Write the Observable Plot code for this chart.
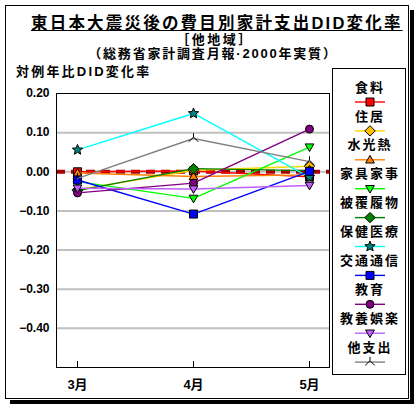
<!DOCTYPE html>
<html><head><meta charset="utf-8">
<script src="https://cdn.jsdelivr.net/npm/d3@7"></script>
<script src="https://cdn.jsdelivr.net/npm/@observablehq/plot@0.6"></script>
<style>
html,body{margin:0;padding:0;background:#fff;}
#root{position:relative;width:419px;height:408px;overflow:hidden;font-family:"Liberation Sans","Noto Sans CJK JP",sans-serif;color:#000;}
.abs{position:absolute;}
</style></head>
<body><div id="root"></div>
<script>
// ---- data ----
const months = ["3月", "4月", "5月"];
const seriesNames = ["食料","住居","水光熱","家具家事","被覆履物","保健医療","交通通信","教育","教養娯楽","他支出"];
const food       = [0.000, 0.002, -0.013];
const housing    = [-0.046, 0.004, 0.014];
const utilities  = [-0.003, -0.012, -0.008];
const furniture  = [-0.025, -0.068, 0.063];
const clothing   = [-0.048, 0.008, 0.003];
const medical    = [0.056, 0.149, -0.014];
const transport  = [-0.021, -0.108, 0.001];
const education  = [-0.054, -0.029, 0.109];
const recreation = [-0.042, -0.044, -0.035];
const other      = [-0.017, 0.085, 0.026];
const yTicks = [0.2, 0.1, 0, -0.1, -0.2, -0.3, -0.4];
const gridTicks = [0.1, 0, -0.1, -0.2, -0.3, -0.4];
const titleText = "東日本大震災後の費目別家計支出DID変化率";
const subtitleText = "［他地域］";
const sourceText = "（総務省家計調査月報·2000年実質）";
const yTitleText = "対例年比DID変化率";

// ---- symbols ----
const rr = s => Math.sqrt(s / Math.PI);
const symSquare = {draw(c, s){const r = rr(s); c.rect(-r, -r, 2*r, 2*r);}};
const symDiamond = {draw(c, s){const r = rr(s)*1.3; c.moveTo(0,-r); c.lineTo(r,0); c.lineTo(0,r); c.lineTo(-r,0); c.closePath();}};
const symTriUp = {draw(c, s){const r = rr(s); c.moveTo(0,-r*1.1); c.lineTo(r*1.1,r*0.8); c.lineTo(-r*1.1,r*0.8); c.closePath();}};
const symTriDown = {draw(c, s){const r = rr(s); c.moveTo(0,r*1.1); c.lineTo(r*1.1,-r*0.8); c.lineTo(-r*1.1,-r*0.8); c.closePath();}};
const symCircle = {draw(c, s){const r = rr(s); c.moveTo(r,0); c.arc(0,0,r,0,2*Math.PI);}};
const symStar = {draw(c, s){const R = rr(s)*1.35, q = R*0.45; for(let i=0;i<10;i++){const a = -Math.PI/2 + i*Math.PI/5; const d = i%2? q : R; const x = d*Math.cos(a), y = d*Math.sin(a); if(i===0) c.moveTo(x,y); else c.lineTo(x,y);} c.closePath();}};
const symCaret = {draw(c, s){const r = rr(s)*1.2; c.moveTo(-r, r*0.7); c.lineTo(0,-r*0.3); c.lineTo(r, r*0.7); c.moveTo(0,-r*0.3); c.lineTo(0,-r*1.1);}};

const series = [
  {name: seriesNames[0], values: food,       line: "#ff0000", fill: "#ff0000", sym: symSquare},
  {name: seriesNames[1], values: housing,    line: "#ffd700", fill: "#ffc000", sym: symDiamond},
  {name: seriesNames[2], values: utilities,  line: "#ff8000", fill: "#ff8000", sym: symTriUp},
  {name: seriesNames[3], values: furniture,  line: "#00ff00", fill: "#00ff00", sym: symTriDown},
  {name: seriesNames[4], values: clothing,   line: "#008000", fill: "#008000", sym: symDiamond},
  {name: seriesNames[5], values: medical,    line: "#00ffff", fill: "#008080", sym: symStar},
  {name: seriesNames[6], values: transport,  line: "#0000ff", fill: "#0000ff", sym: symSquare},
  {name: seriesNames[7], values: education,  line: "#800080", fill: "#800080", sym: symCircle},
  {name: seriesNames[8], values: recreation, line: "#bf5fff", fill: "#bf5fff", sym: symTriDown},
  {name: seriesNames[9], values: other,      line: "#808080", fill: "none",    sym: symCaret}
];

const root = document.getElementById("root");
function addDiv(style, text){const d = document.createElement("div"); d.className = "abs"; d.style.cssText = style; if(text!=null) d.textContent = text; root.appendChild(d); return d;}

// frame + shadow
addDiv("left:410px;top:10px;width:4px;height:394px;background:#000;");
addDiv("left:10px;top:400px;width:404px;height:4px;background:#000;");
addDiv("left:5px;top:5px;width:402px;height:392px;border:1px solid #000;background:#fff;");

// ---- chart ----
const marks = [
  Plot.gridY(gridTicks, {stroke: "#c0c0c0", strokeOpacity: 1, strokeWidth: 2}),
  Plot.ruleY([0], {stroke: "#a80000", strokeWidth: 4, strokeDasharray: "9,6"}),
  Plot.frame({stroke: "#000", strokeWidth: 1}),
  Plot.ruleX(months, {x: d => d, y1: -0.5, y2: -0.5, insetTop: -6, stroke: "#000"}),
  Plot.axisY({ticks: yTicks, tickFormat: d3.format(".2f"), tickSize: 0, tickPadding: 7, fontSize: 12, fontWeight: "bold"}),
  Plot.axisX({tickSize: 0, tickPadding: 12, fontSize: 13, fontWeight: "bold"})
];
for (const s of series) {
  const data = months.map((m, j) => ({month: m, value: s.values[j]}));
  marks.push(Plot.line(data, {x: "month", y: "value", stroke: s.line, strokeWidth: 1.4}));
  marks.push(Plot.dot(data, {x: "month", y: "value", symbol: s.sym, r: 4, fill: s.fill, stroke: "#000", strokeWidth: 1}));
}

const chart = Plot.plot({
  width: 419, height: 408,
  marginLeft: 56, marginRight: 90, marginTop: 93, marginBottom: 41,
  x: {type: "point", domain: months, padding: 0.17, label: null},
  y: {domain: [-0.5, 0.2], label: null},
  style: {background: "transparent", fontFamily: '"Liberation Sans","Noto Sans CJK JP",sans-serif', color: "#000", overflow: "visible"},
  marks
});
chart.style.position = "absolute";
chart.style.left = "0px";
chart.style.top = "0px";
root.appendChild(chart);

// ---- texts ----
addDiv("left:31px;top:13px;white-space:nowrap;font-size:16.5px;line-height:20px;font-weight:bold;letter-spacing:2.2px;text-decoration:underline;", titleText);
addDiv("left:0;top:33px;width:430px;text-align:center;font-size:13px;line-height:13px;font-weight:bold;letter-spacing:2.5px;white-space:nowrap;", subtitleText);
addDiv("left:0;top:47px;width:426px;text-align:center;font-size:13px;line-height:13px;font-weight:bold;letter-spacing:1.8px;white-space:nowrap;", sourceText);
addDiv("left:16px;top:64px;font-size:13px;line-height:15px;font-weight:bold;letter-spacing:2.2px;white-space:nowrap;", yTitleText);

// ---- legend ----
addDiv("left:332px;top:68px;width:72px;height:305px;border:1px solid #000;background:#fff;");
const lsvg = d3.create("svg").attr("width", 419).attr("height", 408)
  .style("position", "absolute").style("left", "0px").style("top", "0px");
series.forEach((s, i) => {
  const ty = 87 + i * 28.9, ly = 102 + i * 28.9;
  lsvg.append("text").attr("x", 370).attr("y", ty).attr("dy", "0.36em").attr("text-anchor", "middle")
    .attr("font-size", 13).attr("font-weight", "bold").attr("letter-spacing", "2px")
    .attr("font-family", '"Noto Sans CJK JP",sans-serif').text(s.name);
  lsvg.append("line").attr("x1", 355).attr("x2", 385).attr("y1", ly).attr("y2", ly)
    .attr("stroke", s.line).attr("stroke-width", 1.4);
  lsvg.append("path").attr("transform", `translate(370,${ly})`)
    .attr("d", d3.symbol(s.sym, Math.PI * 16)())
    .attr("fill", s.fill).attr("stroke", "#000").attr("stroke-width", 1);
});
root.appendChild(lsvg.node());
</script>
</body></html>
